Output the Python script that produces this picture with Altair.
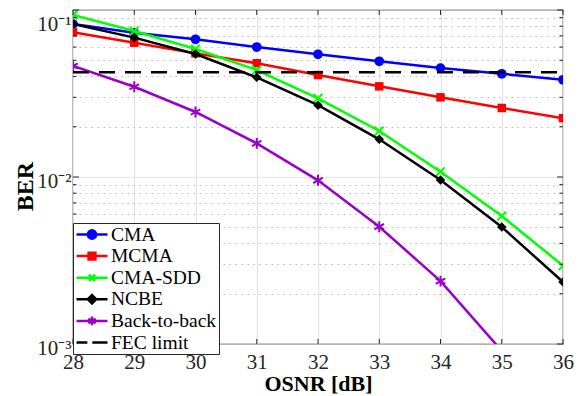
import altair as alt
import pandas as pd

# ---------------- data ----------------
osnr = [28, 29, 30, 31, 32, 33, 34, 35, 36]
cma = [0.0824, 0.0730, 0.0668, 0.0600, 0.0543, 0.0493, 0.0449, 0.0415, 0.0382]
mcma = [0.0735, 0.0637, 0.0550, 0.0480, 0.0408, 0.0349, 0.0300, 0.0259, 0.0225]
cma_sdd = [0.0933, 0.0748, 0.0584, 0.0437, 0.0296, 0.01886, 0.01076, 0.00584, 0.00294]
ncbe = [0.0824, 0.0683, 0.0545, 0.0395, 0.0269, 0.01681, 0.00960, 0.00502, 0.00235]
b2b = [0.0462, 0.0347, 0.0245, 0.0159, 0.00955, 0.00504, 0.00238, 0.00091, None]
fec_x = [28, 36]
fec_y = [0.0424, 0.0424]

series_names = ["CMA", "MCMA", "CMA-SDD", "NCBE", "Back-to-back", "FEC limit"]
series_colors = ["#0000FF", "#FF0000", "#00FF00", "#000000", "#9900CC", "#000000"]

x_ticks = [28, 29, 30, 31, 32, 33, 34, 35, 36]
y_major = [0.001, 0.01, 0.1]
y_major_labels = ["10⁻³", "10⁻²", "10⁻¹"]
y_minor = [m * 10.0 ** e for e in (-3, -2) for m in range(2, 10)]

rows = []
for name, vals in zip(series_names[:5], [cma, mcma, cma_sdd, ncbe, b2b]):
    for xv, yv in zip(osnr, vals):
        if yv is not None:
            rows.append({"osnr": xv, "ber": yv, "series": name})
df = pd.DataFrame(rows)
fec_df = pd.DataFrame({"osnr": fec_x, "ber": fec_y, "series": "FEC limit"})
xtick_df = pd.DataFrame({"osnr": x_ticks})
ymaj_df = pd.DataFrame({"ber": y_major})
ymin_df = pd.DataFrame({"ber": y_minor})

# ---------------- styling ----------------
FONT = "Liberation Serif"
PLOT_W, PLOT_H = 490, 334
FRAME = "#262626"

marker_shape = {
    "CMA": ("circle", True, 95, 0),
    "MCMA": ("square", True, 72, 0),
    "CMA-SDD": ("M-1,-1L1,1M-1,1L1,-1", False, 75, 2),
    "NCBE": ("diamond", True, 90, 0),
    "Back-to-back": ("M0,-1L0,1M-0.87,-0.5L0.87,0.5M-0.87,0.5L0.87,-0.5", False, 120, 2),
}

legend_paths = [
    "M-1,0L1,0M-0.27,0A0.27,0.27,0,1,1,0.27,0A0.27,0.27,0,1,1,-0.27,0Z",
    "M-1,0L1,0M-0.22,-0.22L0.22,-0.22L0.22,0.22L-0.22,0.22Z",
    "M-1,0L1,0M-0.2,-0.2L0.2,0.2M-0.2,0.2L0.2,-0.2",
    "M-1,0L1,0M0,-0.27L0.27,0L0,0.27L-0.27,0Z",
    "M-1,0L1,0M0,-0.28L0,0.28M-0.24,-0.14L0.24,0.14M-0.24,0.14L0.24,-0.14",
    "M-1,0L-0.3,0M0.02,0L1,0",
]

major_test = "abs(log(datum.value)/LN10 - round(log(datum.value)/LN10)) < 0.001"
label_expr = ""
for v, lab in zip(y_major, y_major_labels):
    label_expr += f"abs(datum.value - {v}) < {v * 1e-3} ? '{lab}' : "
label_expr += "''"
top_test = f"datum.value > {y_major[-1] * 0.999}"

x_scale = alt.Scale(domain=[28, 36], nice=False, zero=False)
y_scale = alt.Scale(type="log", domain=[0.001, 0.1], nice=False)

x_axis = alt.Axis(
    values=x_ticks,
    title="OSNR [dB]",
    grid=True,
    gridColor="#e2e2e2",
    gridWidth=1,
    ticks=False,
    domain=False,
    labelFont=FONT,
    labelFontSize=21,
    labelColor="#262626",
    labelPadding=7,
    titleFont=FONT,
    titleFontSize=22,
    titleFontWeight="bold",
    titleColor="#000000",
    titlePadding=1,
    labelFlush=False,
)
y_axis = alt.Axis(
    values=sorted(y_major + y_minor),
    labelExpr=label_expr,
    labelOverlap=False,
    labelOffset={"condition": {"test": top_test, "value": 14}, "value": 4},
    title="BER",
    grid=True,
    gridColor={"condition": {"test": major_test, "value": "#e2e2e2"}, "value": "#b8b8b8"},
    gridDash={"condition": {"test": major_test, "value": [1, 0]}, "value": [1.5, 4.5]},
    gridWidth=1,
    ticks=False,
    domain=False,
    labelFont=FONT,
    labelFontSize=21,
    labelColor="#262626",
    labelPadding=2,
    labelFlush=False,
    titleFont=FONT,
    titleFontSize=24,
    titleFontWeight="bold",
    titleColor="#000000",
    titleX=-41,
    titleY=176,
    titleBaseline="alphabetic",
)
x_enc = alt.X("osnr:Q", scale=x_scale, axis=x_axis)
y_enc = alt.Y("ber:Q", scale=y_scale, axis=y_axis)

layers = []
for name, color in zip(series_names[:5], series_colors[:5]):
    base = alt.Chart(df).transform_filter(alt.datum.series == name)
    layers.append(
        base.mark_line(color=color, strokeWidth=2.5, clip=True).encode(x=x_enc, y=y_enc)
    )
    shape, filled, size, sw = marker_shape[name]
    pt_kwargs = dict(shape=shape, filled=filled, size=size, color=color, opacity=1, clip=True)
    if not filled:
        pt_kwargs["strokeWidth"] = sw
    layers.append(base.mark_point(**pt_kwargs).encode(x=x_enc, y=y_enc))

layers.append(
    alt.Chart(fec_df)
    .mark_line(color="#000000", strokeWidth=2.5, strokeDash=[16, 10], clip=True)
    .encode(x=x_enc, y=y_enc)
)

# inward tick marks on all four sides (positions from the tick value lists)
for y0, y1 in ((PLOT_H, PLOT_H - 5), (0, 5)):
    layers.append(
        alt.Chart(xtick_df).mark_rule(color=FRAME, strokeWidth=1)
        .encode(x=x_enc, y=alt.value(y0), y2=alt.value(y1))
    )
for df_t, ln in ((ymaj_df, 6), (ymin_df, 3.5)):
    for x0, x1 in ((0, ln), (PLOT_W, PLOT_W - ln)):
        layers.append(
            alt.Chart(df_t).mark_rule(color=FRAME, strokeWidth=1)
            .encode(y=y_enc, x=alt.value(x0), x2=alt.value(x1))
        )

leg = alt.Legend(
    title=None,
    orient="none",
    legendX=0,
    legendY=213,
    symbolSize=961,
    symbolStrokeWidth=2.5,
    clipHeight=19,
    rowPadding=1.6,
    padding=2,
    labelOffset=2,
    labelFont=FONT,
    labelFontSize=19.5,
    labelColor="#000000",
    strokeColor=FRAME,
    fillColor="#ffffff",
    symbolOpacity=1,
)
legend_layer = (
    alt.Chart(df)
    .transform_filter("false")
    .mark_point(filled=True, opacity=1, strokeWidth=2.5)
    .encode(
        x=x_enc,
        y=y_enc,
        fill=alt.Fill("series:N", scale=alt.Scale(domain=series_names, range=series_colors), legend=leg),
        stroke=alt.Stroke("series:N", scale=alt.Scale(domain=series_names, range=series_colors), legend=leg),
        shape=alt.Shape("series:N", scale=alt.Scale(domain=series_names, range=legend_paths), legend=leg),
    )
)
layers.append(legend_layer)

chart = (
    alt.layer(*layers)
    .properties(
        width=PLOT_W,
        height=PLOT_H,
        autosize=alt.AutoSizeParams(type="none"),
        padding={"left": 73, "top": 10, "right": 19, "bottom": 52},
        background="#ffffff",
    )
    .configure_view(stroke=FRAME, strokeWidth=1.2)
)

chart.save("out.html", embed_options={"renderer": "svg", "actions": False})
